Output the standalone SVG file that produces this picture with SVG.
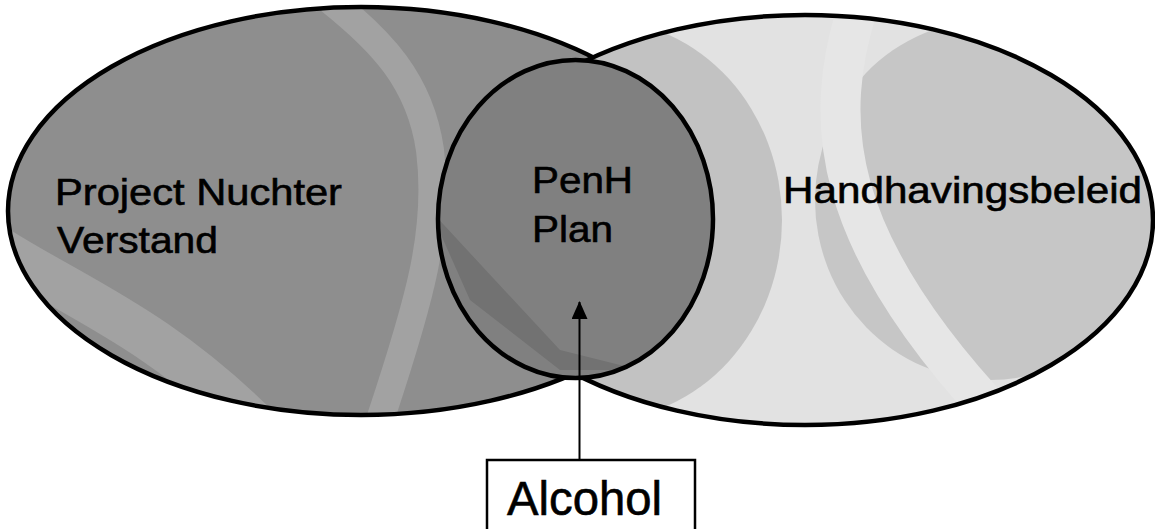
<svg xmlns="http://www.w3.org/2000/svg" width="1155" height="529" viewBox="0 0 1155 529">
  <style>
    .outline { stroke: #000; stroke-width: 4.5; }
    .label { font-family: "Liberation Sans", Arial, sans-serif; font-size: 37px; fill: #000; stroke: #000; stroke-width: 0.6; }
    .box { fill: #fff; stroke: #000; stroke-width: 2.5; }
    .conn { stroke: #000; stroke-width: 2; fill: none; }
  </style>
  <defs>
    <clipPath id="clipLeft"><ellipse cx="361" cy="211" rx="353" ry="204"/></clipPath>
    <clipPath id="clipRight"><ellipse cx="805" cy="220" rx="348" ry="205"/></clipPath>
    <clipPath id="clipMid"><ellipse cx="575.5" cy="219" rx="137.5" ry="159"/></clipPath>
    <marker id="arrow" viewBox="0 0 18 16" refX="17" refY="8" markerWidth="18" markerHeight="16" markerUnits="userSpaceOnUse" orient="auto">
      <path d="M0,0 L18,8 L0,16 z" fill="#000"/>
    </marker>
  </defs>

  <g id="node-left">
    <ellipse cx="361" cy="211" rx="353" ry="204" fill="#8e8e8e"/>
    <g clip-path="url(#clipLeft)" fill="none" stroke="#a2a2a2">
      <path d="M0,250 C80,300 160,330 260,430" stroke-width="45"/>
      <path d="M330,0 C380,40 420,80 430,150 C440,230 420,300 380,420" stroke-width="28"/>
    </g>
    <ellipse cx="361" cy="211" rx="353" ry="204" fill="none" class="outline"/>
    <text class="label" x="55" y="205" textLength="287" lengthAdjust="spacingAndGlyphs">Project Nuchter</text>
    <text class="label" x="57" y="253" textLength="161" lengthAdjust="spacingAndGlyphs">Verstand</text>
  </g>

  <g id="node-right">
    <ellipse cx="805" cy="220" rx="348" ry="205" fill="#e2e2e2"/>
    <g clip-path="url(#clipRight)">
      <ellipse cx="600" cy="220" rx="182" ry="200" fill="#c2c2c2"/>
      <ellipse cx="990" cy="200" rx="175" ry="180" fill="#c6c6c6"/>
      <path d="M860,0 C820,120 830,240 1000,420" fill="none" stroke="#e6e6e6" stroke-width="40"/>
    </g>
    <ellipse cx="805" cy="220" rx="348" ry="205" fill="none" class="outline"/>
    <text class="label" x="783" y="203" textLength="359" lengthAdjust="spacingAndGlyphs">Handhavingsbeleid</text>
  </g>

  <g id="node-center">
    <ellipse cx="575.5" cy="219" rx="137.5" ry="159" fill="#808080"/>
    <g clip-path="url(#clipMid)">
      <path d="M430,210 L470,300 L560,370 L640,370 L560,350 Z" fill="#727272"/>
    </g>
    <ellipse cx="575.5" cy="219" rx="137.5" ry="159" fill="none" class="outline"/>
    <text class="label" x="532" y="193" textLength="101" lengthAdjust="spacingAndGlyphs">PenH</text>
    <text class="label" x="532" y="242" textLength="81" lengthAdjust="spacingAndGlyphs">Plan</text>
  </g>

  <g id="connectors">
    <line class="conn" x1="579.5" y1="460" x2="579.5" y2="302" marker-end="url(#arrow)"/>
  </g>

  <g id="node-alcohol">
    <rect class="box" x="487" y="460" width="208" height="90"/>
    <text class="label" x="507" y="515" style="font-size:48px" textLength="155" lengthAdjust="spacingAndGlyphs">Alcohol</text>
  </g>
</svg>
